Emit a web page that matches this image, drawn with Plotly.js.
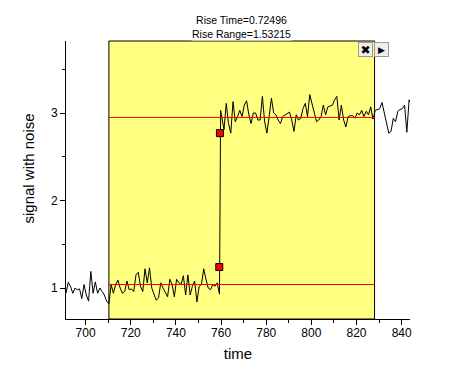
<!DOCTYPE html>
<html><head><meta charset="utf-8">
<script src="https://cdn.plot.ly/plotly-3.0.1.min.js"></script>
<style>html,body{margin:0;padding:0;background:#fff}</style>
</head><body><div id="c" style="width:453px;height:379px"></div>
<script>
const time = [691.3,692.3,693.3,694.3,695.3,696.3,697.3,698.3,699.3,700.3,701.3,702.3,703.3,704.3,705.3,706.3,707.3,708.3,709.3,710.3,
711.3,712.3,713.3,714.3,715.3,716.3,717.3,718.3,719.3,720.3,721.3,722.3,723.3,724.3,725.3,726.3,727.3,728.3,729.3,730.3,
731.3,732.3,733.3,734.3,735.3,736.3,737.3,738.3,739.3,740.3,741.3,742.3,743.3,744.3,745.3,746.3,747.3,748.3,749.3,750.3,
751.3,752.3,753.3,754.3,755.3,756.3,757.3,758.3,759.3,
759.8,761.3,762.3,763.3,764.3,765.3,766.3,767.3,768.3,769.3,770.3,771.3,772.3,773.3,774.3,775.3,776.3,777.3,778.3,779.3,780.3,
781.3,782.3,783.3,784.3,785.3,786.3,787.3,788.3,789.3,790.3,791.3,792.3,793.3,794.3,795.3,796.3,797.3,798.3,799.3,800.3,
801.3,802.3,803.3,804.3,805.3,806.3,807.3,808.3,809.3,810.3,811.3,812.3,813.3,814.3,815.3,816.3,817.3,818.3,819.3,820.3,
821.3,822.3,823.3,824.3,825.3,826.3,827.3,828.3,829.3,830.3,831.3,832.3,833.3,834.3,835.3,836.3,837.3,838.3,839.3,840.3,
841.3,842.3,843.3,844.3];
const signal = [0.94,1.065,1.02,0.94,1.0,0.98,0.99,0.88,1.04,0.92,0.85,1.19,0.94,1.07,0.94,1.0,0.96,0.92,0.85,0.82,
1.04,0.94,1.04,1.09,1.0,0.94,0.96,1.08,0.98,0.99,0.96,1.15,1.18,1.02,0.96,1.22,1.06,1.23,1.0,0.92,
0.86,0.89,1.06,1.0,0.94,0.9,1.1,1.04,0.9,1.1,1.06,1.04,1.14,0.92,1.15,0.92,1.02,1.08,0.84,1.02,
1.04,1.22,1.1,1.0,0.98,1.04,1.02,1.06,0.93,
3.03,2.81,3.11,2.88,2.77,3.13,2.9,2.96,3.03,2.96,3.09,3.14,2.98,2.88,3.0,3.0,2.92,2.92,3.19,2.9,
2.77,2.96,3.17,3.0,2.98,2.92,2.88,2.96,2.98,3.0,3.01,2.92,2.79,2.98,2.92,2.94,3.05,3.11,2.96,3.21,
3.11,3.0,2.9,2.92,2.96,3.09,2.98,3.07,3.08,3.09,3.15,3.19,2.92,3.09,2.92,2.84,2.96,2.97,2.97,2.94,
3.0,2.98,3.03,2.96,3.02,2.98,3.07,2.93,3.03,3.04,3.05,3.12,3.0,2.88,2.77,2.79,2.94,2.9,3.02,3.04,
3.05,3.09,2.78,3.15,3.1];
const regionX = [710.3, 828];
const lowLevel = [1.04, 1.04];
const highLevel = [2.949, 2.949];
const riseX = [759.2, 759.5];
const riseY = [1.24, 2.77];
const titleLines = ["Rise Time=0.72496", "Rise Range=1.53215"];
const xTicks = [700,720,740,760,780,800,820,840];
const yTicks = [1,2,3];
const yTitle = "signal with noise";

const font = "Liberation Sans, Arial, sans-serif";
const buttons = [["✖", 365.5], ["▶", 381.5]];
Plotly.newPlot("c", [
  {x: time, y: signal, mode: "lines", line: {color: "#000", width: 1}, hoverinfo: "skip"},
  {x: regionX, y: lowLevel, mode: "lines", line: {color: "#f00", width: 1}},
  {x: regionX, y: highLevel, mode: "lines", line: {color: "#f00", width: 1}},
  {x: riseX, y: riseY, mode: "markers", marker: {symbol: "square", size: 7, color: "#f00", line: {color: "#000", width: 1}}}
], {
  width: 453, height: 379, showlegend: false,
  paper_bgcolor: "#fff", plot_bgcolor: "#fff",
  margin: {l: 66, r: 43, t: 41, b: 60, pad: 0},
  font: {family: font, color: "#000"},
  xaxis: {range: [691.3, 843.7], tickvals: xTicks, ticks: "outside", ticklen: 5, tickcolor: "#000", tickwidth: 1,
    ticklabelstandoff: -2,
    minor: {dtick: 10, tick0: 700, ticks: "outside", ticklen: 3, tickcolor: "#000", tickwidth: 1, showgrid: false},
    showline: true, linecolor: "#000", linewidth: 1, showgrid: false, zeroline: false,
    tickfont: {size: 12, family: font}, title: {text: "time", font: {size: 15, family: font}, standoff: 9}},
  yaxis: {range: [0.646, 3.823], tickvals: yTicks, ticks: "outside", ticklen: 5, tickcolor: "#000", tickwidth: 1,
    minor: {dtick: 0.5, tick0: 0.5, ticks: "outside", ticklen: 3, tickcolor: "#000", tickwidth: 1, showgrid: false},
    showline: true, linecolor: "#000", linewidth: 1, showgrid: false, zeroline: false,
    tickfont: {size: 12, family: font}},
  shapes: [{type: "rect", xref: "x", yref: "paper", x0: regionX[0], x1: regionX[1], y0: 0, y1: 1,
    fillcolor: "#FFFF80", line: {color: "#000", width: 1}, layer: "below"}],
  annotations: [
    {xref: "paper", yref: "paper", x: (241-66)/344, y: 1, yanchor: "bottom", xanchor: "center", showarrow: false,
     text: titleLines.join("<br>"), font: {size: 10.5, family: font, color: "#000"}, bgcolor: "#fff", borderpad: 0},
    {xref: "paper", yref: "paper", x: (27.5-66)/344, y: (319-169)/278, xanchor: "center", yanchor: "middle", showarrow: false,
     text: yTitle, textangle: -90, font: {size: 15, family: font, color: "#000"}}
  ].concat(buttons.map(b => ({
     xref: "paper", yref: "paper", x: (b[1]-66)/344, y: 1, yanchor: "top", xanchor: "center", yshift: -1, showarrow: false,
     text: b[0], width: 13, height: 13, borderpad: 0, borderwidth: 1, bordercolor: "#999", bgcolor: "#eee",
     font: {size: b[0] === "✖" ? 12 : 9, family: "DejaVu Sans", color: "#000"}
  })))
}, {displayModeBar: false, staticPlot: true});
</script></body></html>
